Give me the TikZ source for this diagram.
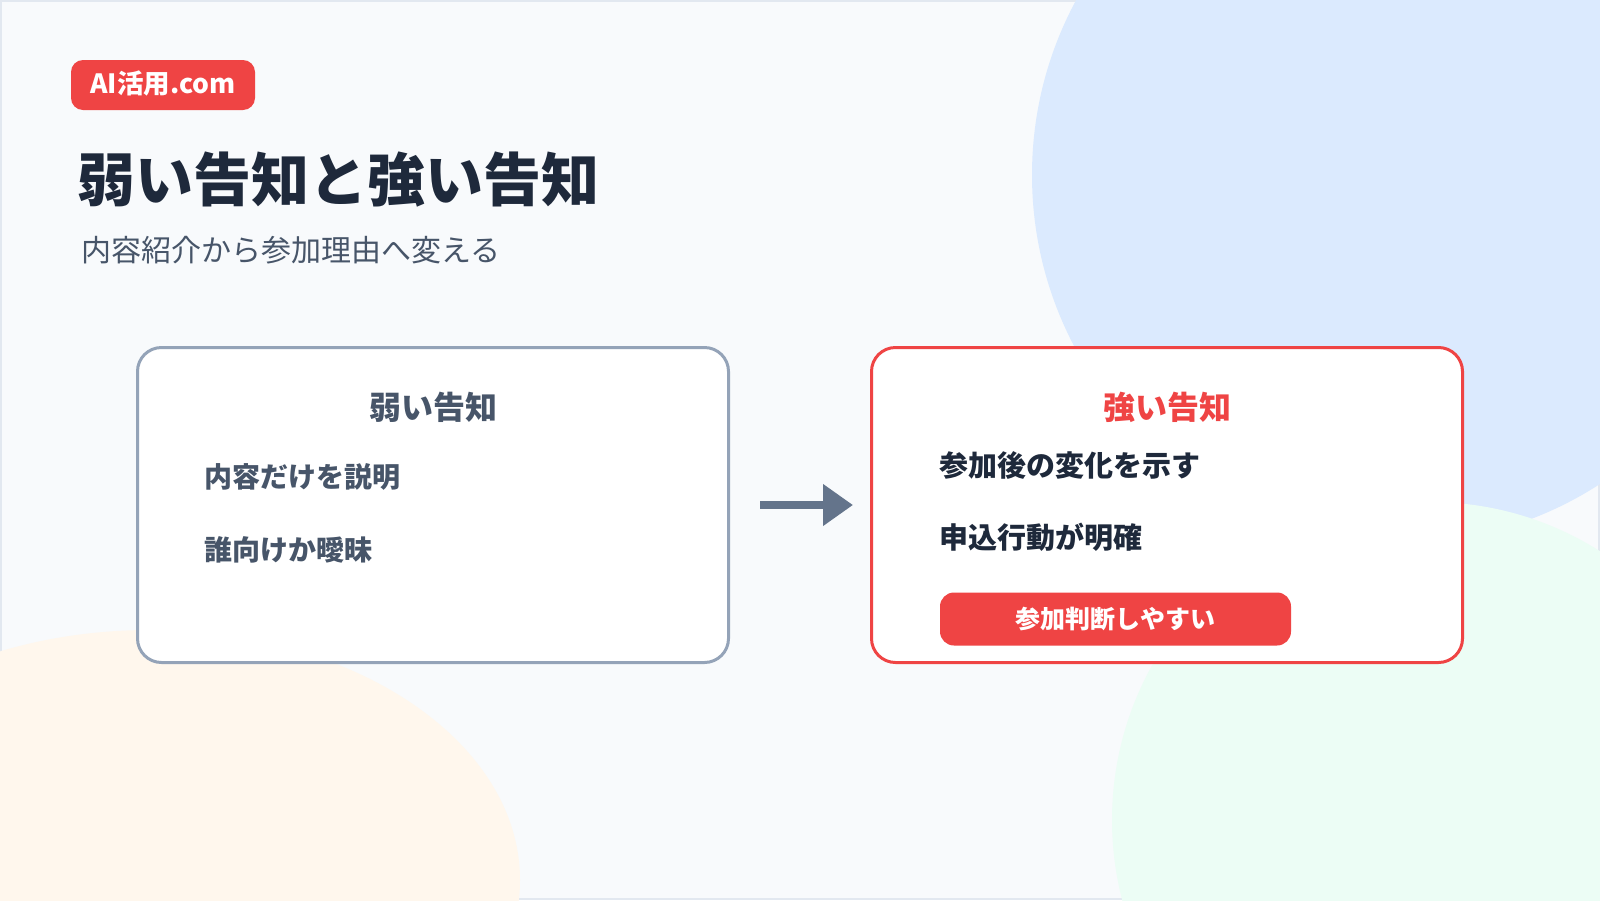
\documentclass[tikz,border=0pt]{standalone}
\usepackage{fontspec}
\setmainfont{Noto Sans CJK JP}
\usetikzlibrary{arrows.meta}
\definecolor{bgc}{HTML}{F8FAFC}
\definecolor{framec}{HTML}{E2E8F0}
\definecolor{blobblue}{HTML}{DBEAFE}
\definecolor{blobgreen}{HTML}{ECFDF5}
\definecolor{blobpeach}{HTML}{FFF7ED}
\definecolor{redc}{HTML}{EF4444}
\definecolor{navy}{HTML}{1E293B}
\definecolor{slate}{HTML}{475569}
\definecolor{grayb}{HTML}{94A3B8}
\definecolor{arrowc}{HTML}{64748B}
\tikzset{
  badge/.style={fill=redc, rounded corners=12pt, minimum width=184pt, minimum height=50pt, inner sep=0pt,
    text height=22pt, text depth=6pt,
    text=white, font=\fontsize{26.5}{32}\selectfont\bfseries},
  maintitle/.style={anchor=west, inner sep=0pt, text=navy, font=\fontsize{58}{68}\selectfont\bfseries},
  subtitle/.style={anchor=west, inner sep=0pt, text=slate, font=\fontsize{30}{36}\selectfont},
  cardbox/.style={fill=white, line width=3pt, rounded corners=24pt, minimum width=591pt, minimum height=315pt, inner sep=0pt},
  weakcard/.style={cardbox, draw=grayb},
  strongcard/.style={cardbox, draw=redc},
  cardtitle/.style={inner sep=0pt, font=\fontsize{32}{38}\selectfont\bfseries},
  item/.style={anchor=west, inner sep=0pt, font=\fontsize{28}{34}\selectfont\bfseries},
  bigitem/.style={item, font=\fontsize{29}{35}\selectfont\bfseries},
  pill/.style={fill=redc, rounded corners=14pt, minimum width=351pt, minimum height=53pt, inner sep=0pt,
    text=white, font=\fontsize{25}{30}\selectfont\bfseries},
  flowarrow/.style={draw=arrowc, line width=8pt, -{Triangle[length=30pt,width=40pt]}}
}
\begin{document}
\begin{tikzpicture}[x=1pt,y=-1pt]
\useasboundingbox (0,0) rectangle (1600,900);
\fill[framec] (0,0) rectangle (1600,900);
\fill[bgc] (2,2) rectangle (1598,898);
\begin{scope}
  \clip (0,0) rectangle (1600,900);
  \fill[blobblue] (1400,175) circle[radius=368];
  \fill[blobgreen] (1430,820) circle[radius=318];
  \fill[blobpeach] (150,880) ellipse[x radius=370, y radius=250];
\end{scope}

\node[badge] (brand) at (163,85) {AI活用.com};
\node[maintitle] (title) at (77,180) {弱い告知と強い告知};
\node[subtitle] (sub) at (81,250) {内容紹介から参加理由へ変える};

\node[weakcard] (lbox) at (433,505) {};
\node[strongcard] (rbox) at (1167,505) {};

\node[cardtitle, text=slate] (ltitle) at (433,407.5) {弱い告知};
\node[item, text=slate] (l1) at (204,477) {内容だけを説明};
\node[item, text=slate] (l2) at (204,549.5) {誰向けか曖昧};

\node[cardtitle, text=redc] (rtitle) at (1167,407.5) {強い告知};
\node[bigitem, text=navy] (r1) at (939,465) {参加後の変化を示す};
\node[bigitem, text=navy] (r2) at (939,537) {申込行動が明確};
\node[pill] (cta) at (1115.5,619) {参加判断しやすい};

\draw[flowarrow] ([xshift=30pt]lbox.east) -- ([xshift=-17pt]rbox.west);
\end{tikzpicture}
\end{document}
